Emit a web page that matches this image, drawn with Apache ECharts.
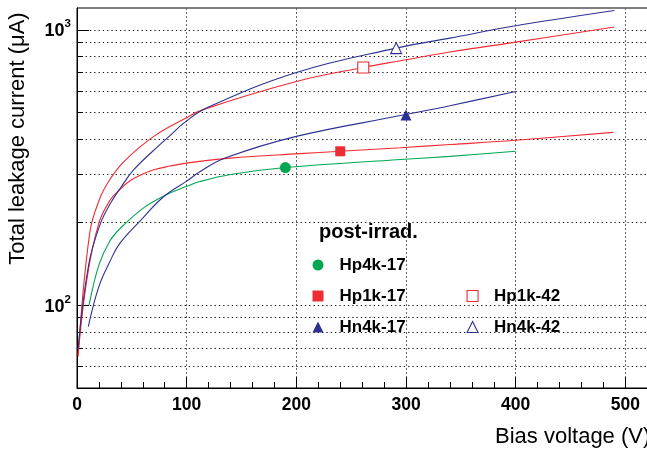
<!DOCTYPE html>
<html><head><meta charset="utf-8">
<script src="https://cdn.jsdelivr.net/npm/echarts@6/dist/echarts.min.js"></script>
<style>html,body{margin:0;padding:0;background:#fff}#c{width:647px;height:451px}</style>
</head><body><div id="c"></div>
<script>
// ---- data ----
const xTicks = [0, 100, 200, 300, 400, 500];
const yGrid = [60, 70, 80, 90, 100, 200, 300, 400, 500, 600, 700, 800, 900, 1000];
const yMajor = [100, 1000];

const hp4k17V = [11, 20, 30, 40, 61, 79, 100, 112, 140, 190, 295, 340, 400];
const hp4k17I = [100, 140, 171, 191, 226, 249, 270, 281, 298, 316, 338, 347, 362];

const hp1k17V = [1, 9.4, 20, 30, 39, 49, 57.5, 70, 85, 100, 140, 203, 240, 295, 340, 400, 489];
const hp1k17I = [66, 127, 199, 240, 263, 284, 296, 310, 320, 328, 342, 355, 362, 373, 383, 397, 424];

const hp1k42V = [1, 11.6, 21, 30, 43, 70, 97.6, 115, 200, 261, 295, 340, 400, 490];
const hp1k42I = [65, 183, 245, 286, 333, 410, 474, 513, 649, 730, 772, 830, 902, 1023];

const hn4k17V = [10.3, 20, 30.7, 39.2, 57.4, 78.7, 100, 112, 135, 200, 295, 340, 400];
const hn4k17I = [83.5, 117, 146, 168, 202, 247, 282, 305, 342, 410, 488, 530, 597];

const hn4k42V = [0.9, 10.9, 21.6, 30.7, 39.8, 52, 76.3, 84.8, 97.6, 118, 200, 291, 340, 400, 490];
const hn4k42I = [69, 142, 199, 235, 267, 311, 385, 413, 459, 520, 700, 858, 933, 1034, 1175];

// single highlighted measurement markers
const markerNames = ['Hp4k-17', 'Hp1k-17', 'Hp1k-42', 'Hn4k-17', 'Hn4k-42'];
const markerV = [190, 240, 261, 300, 291];
const markerI = [316, 362, 730, 490, 858];

// ---- styles ----
const FONT = 'Liberation Sans, Arial, Helvetica, sans-serif';
const G = '#00a651', R = '#ef2b33', B = '#2e3192';
const zip = (a, b) => a.map((v, i) => [v, b[i]]);
const TICK_MAJOR_V = 11, TICK_MINOR_V = 5.5; // tick lengths expressed in axis units (~12px / ~6px)

function curve(name, V, I, color, extra) {
  return Object.assign({
    name: name, type: 'line', data: zip(V, I), showSymbol: false, symbol: 'none',
    smooth: 0.4, z: 3, silent: true,
    lineStyle: {color: color, width: 1.1}, itemStyle: {color: color}
  }, extra || {});
}
function marker(idx, symbol, size, fill, stroke) {
  return {
    name: markerNames[idx], type: 'scatter', z: 5, silent: true,
    data: [[markerV[idx], markerI[idx]]], symbol: symbol, symbolSize: size,
    itemStyle: {color: fill, borderColor: stroke, borderWidth: fill === '#fff' ? 1.1 : 0, opacity: 1}
  };
}
const legendText = {fontSize: 17, fontWeight: 'bold', color: '#000', fontFamily: FONT, lineHeight: 17, padding: [0, 0, 0, 11]};

const chart = echarts.init(document.getElementById('c'), null, {renderer: 'canvas'});
chart.setOption({
  animation: false,
  backgroundColor: '#fff',
  grid: {left: 77, top: 8, bottom: 63, width: 658.05, containLabel: false, outerBoundsMode: 'none',
         show: true, borderColor: '#000', borderWidth: 1, backgroundColor: 'transparent'},
  xAxis: {
    type: 'value', min: 0, max: 600, interval: 100,
    axisLine: {onZero: false, lineStyle: {color: '#000', width: 1}},
    axisTick: {show: true, inside: true, length: 11, lineStyle: {color: '#000'}},
    minorTick: {show: true, splitNumber: 5, length: 6, lineStyle: {color: '#000'}},
    splitLine: {show: true, lineStyle: {color: '#666', width: 1, type: [2, 2]}},
    axisLabel: {
      margin: 8, color: '#000', fontSize: 17.5, fontWeight: 'bold', fontFamily: FONT,
      formatter: v => (xTicks.indexOf(v) >= 0 ? String(v) : '')
    }
  },
  yAxis: {
    type: 'log', logBase: 10, min: 50, max: 1200,
    axisLine: {show: true, lineStyle: {color: '#000', width: 1}},
    axisTick: {show: false},
    splitLine: {show: false},
    axisLabel: {
      margin: 6, showMinLabel: false, showMaxLabel: false, padding: [3, 0, 0, 0],
      formatter: function (v) {
        const l = Math.log10(v), r = Math.round(l);
        if (Math.abs(l - r) < 1e-6 && (r === 2 || r === 3)) return '{b|10}{s|' + r + '}';
        return '';
      },
      rich: {
        b: {fontSize: 18, fontWeight: 'bold', color: '#000', fontFamily: FONT, lineHeight: 26},
        s: {fontSize: 11.5, fontWeight: 'bold', color: '#000', fontFamily: FONT, lineHeight: 12, verticalAlign: 'top'}
      }
    }
  },
  legend: [{
    orient: 'vertical', left: 312.5, top: 256.5, padding: 0, itemWidth: 11, itemHeight: 11, itemGap: 14,
    selectedMode: false, textStyle: legendText,
    data: [
      {name: 'Hp4k-17', icon: 'circle', itemStyle: {color: G, borderWidth: 0}},
      {name: 'Hp1k-17', icon: 'rect', itemStyle: {color: R, borderWidth: 0}},
      {name: 'Hn4k-17', icon: 'triangle', itemStyle: {color: B, borderWidth: 0}}
    ]
  }, {
    orient: 'vertical', left: 466.5, top: 287.5, padding: 0, itemWidth: 11, itemHeight: 11, itemGap: 14,
    selectedMode: false, textStyle: legendText,
    data: [
      {name: 'Hp1k-42', icon: 'rect', itemStyle: {color: '#fff', borderColor: R, borderWidth: 1.1}},
      {name: 'Hn4k-42', icon: 'triangle', itemStyle: {color: '#fff', borderColor: B, borderWidth: 1.1}}
    ]
  }],
  graphic: [
    {type: 'text', x: 18, y: 138.5, rotation: Math.PI / 2, silent: true,
     style: {text: 'Total leakage current (μA)', fontSize: 22, fontFamily: FONT, fill: '#000', align: 'center', verticalAlign: 'middle'}},
    {type: 'text', x: 495, y: 437, silent: true,
     style: {text: 'Bias voltage (V)', fontSize: 22, fontFamily: FONT, fill: '#000', align: 'left', verticalAlign: 'middle'}},
    {type: 'text', x: 319, y: 232, silent: true,
     style: {text: 'post-irrad.', fontSize: 20, fontWeight: 'bold', fontFamily: FONT, fill: '#000', align: 'left', verticalAlign: 'middle'}}
  ],
  series: [
    {
      name: 'y-grid', type: 'line', data: [], silent: true,
      markLine: {
        silent: true, z: 1, symbol: 'none', animation: false,
        label: {show: false}, emphasis: {disabled: true},
        lineStyle: {color: '#111', width: 1, type: [1.3, 3]},
        data: yGrid.map(v => ({yAxis: v}))
      }
    },
    {
      name: 'y-ticks', type: 'line', data: [], silent: true,
      markLine: {
        silent: true, z: 2, symbol: 'none', animation: false,
        label: {show: false}, emphasis: {disabled: true},
        lineStyle: {color: '#000', width: 1, type: 'solid'},
        data: yGrid.map(v => [{coord: [0, v]}, {coord: [yMajor.indexOf(v) >= 0 ? TICK_MAJOR_V : TICK_MINOR_V, v]}])
      }
    },
    curve('c-hp4k17', hp4k17V, hp4k17I, G),
    curve('c-hp1k17', hp1k17V, hp1k17I, R),
    curve('c-hp1k42', hp1k42V, hp1k42I, R),
    curve('c-hn4k17', hn4k17V, hn4k17I, B),
    curve('c-hn4k42', hn4k42V, hn4k42I, B),
    marker(0, 'circle', 11, G, G),
    marker(1, 'rect', 10, R, R),
    marker(2, 'rect', 11, '#fff', R),
    marker(3, 'triangle', 11, B, B),
    marker(4, 'triangle', 11, '#fff', B)
  ]
});
</script>
</body></html>
